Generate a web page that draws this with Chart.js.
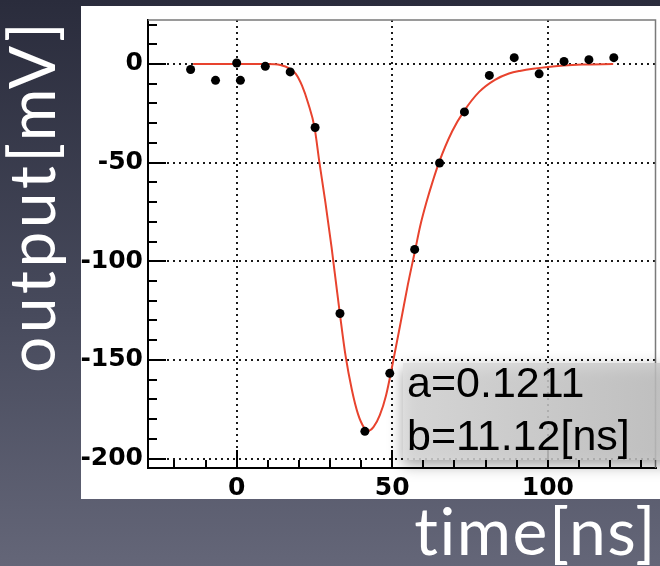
<!DOCTYPE html>
<html>
<head>
<meta charset="utf-8">
<script src="https://cdn.jsdelivr.net/npm/chart.js@4"></script>
<style>
  html, body { margin: 0; padding: 0; }
  body {
    width: 660px; height: 566px; overflow: hidden;
    background: linear-gradient(to bottom, #2a2c3c 0%, #474a5c 55%, #646678 100%);
  }
</style>
</head>
<body>
<canvas id="c" width="660" height="566"></canvas>
<script>
// measured points (time in ns, output in mV)
const timeData   = [-14.8, -6.8, 0, 1.2, 9.2, 17.2, 25.2, 33.2, 41.2, 49.2, 57.2, 65.2, 73.2, 81.2, 89.2, 97.2, 105.2, 113.2, 121.2];
const outputData = [-2.8, -8.3, 0.5, -8.3, -1.2, -4, -32.2, -126.5, -186.2, -156.8, -94, -50.2, -24.3, -5.8, 3.2, -5, 1.3, 2.2, 3.2];

// fit curve
const fitTime   = [-14, 0, 10, 14, 17, 19, 21, 23, 25, 26.6, 28.5, 30.5, 32, 33.2, 35, 37, 39, 41, 42.2, 44, 46, 48, 50, 53, 55, 57.4, 59, 61, 63, 65, 69.3, 73, 78, 83, 87.5, 91, 100, 111, 121];
const fitOutput = [0, 0, 0, -0.5, -2.3, -5, -11, -20, -32, -50, -70, -93, -112, -127, -148, -165, -177.5, -184.5, -186, -184, -178, -168, -153, -128.5, -112, -94, -82, -70, -59.5, -50, -34, -24, -14, -8, -4.8, -3.5, -1.5, -0.3, 0];

const fitParams = ["a=0.1211", "b=11.12[ns]"];
const xTitle = "time[ns]";
const yTitle = "output[mV]";

const xRange = [-28.5, 134.6];
const yRange = [-204.8, 22.3];

const tickFont = { family: "DejaVu Sans", weight: "bold", size: 25 };
const isMajor = v => v % 50 === 0;

const points = timeData.map((t, i) => ({ x: t, y: outputData[i] }));
const curve = fitTime.map((t, i) => ({ x: t, y: fitOutput[i] }));

const deco = {
  id: "deco",
  beforeDraw(chart) {
    const ctx = chart.ctx;
    ctx.save();
    ctx.fillStyle = "#ffffff";
    ctx.fillRect(81, 6, 579, 493);
    ctx.restore();
  },
  beforeDatasetsDraw(chart) {
    const ctx = chart.ctx;
    const a = chart.chartArea;
    const { x, y } = chart.scales;
    ctx.save();
    // top / right frame
    ctx.strokeStyle = "#7a7a7a";
    ctx.lineWidth = 1.5;
    ctx.beginPath();
    ctx.moveTo(a.left, a.top);
    ctx.lineTo(a.right, a.top);
    ctx.lineTo(a.right, a.bottom);
    ctx.stroke();
    // inward ticks
    ctx.strokeStyle = "#000";
    ctx.lineWidth = 2;
    ctx.beginPath();
    x.ticks.forEach(t => {
      const px = Math.round(x.getPixelForValue(t.value));
      const len = isMajor(t.value) ? 18 : 8;
      ctx.moveTo(px, a.bottom);
      ctx.lineTo(px, a.bottom - len);
    });
    y.ticks.forEach(t => {
      const py = Math.round(y.getPixelForValue(t.value));
      const len = isMajor(t.value) ? 18 : 9;
      ctx.moveTo(a.left, py);
      ctx.lineTo(a.left + len, py);
    });
    ctx.stroke();
    ctx.restore();
  },
  afterDatasetsDraw(chart) {
    const ctx = chart.ctx;
    ctx.save();
    // fit parameter box
    ctx.shadowColor = "rgba(0,0,0,0.45)";
    ctx.shadowBlur = 14;
    ctx.shadowOffsetY = 5;
    const g = ctx.createLinearGradient(403, 0, 660, 0);
    g.addColorStop(0, "rgba(224,224,224,0.82)");
    g.addColorStop(1, "rgba(198,198,198,0.82)");
    ctx.fillStyle = g;
    ctx.fillRect(403, 363, 270, 97);
    ctx.shadowColor = "transparent";
    ctx.fillStyle = "#000";
    ctx.font = "43px 'Liberation Sans', Arial, sans-serif";
    ctx.textAlign = "left";
    ctx.textBaseline = "alphabetic";
    ctx.fillText(fitParams[0], 407, 397);
    ctx.fillText(fitParams[1], 407, 450);
    ctx.restore();
  },
  afterDraw(chart) {
    const ctx = chart.ctx;
    ctx.save();
    ctx.fillStyle = "#ffffff";
    ctx.textBaseline = "alphabetic";
    ctx.textAlign = "right";
    ctx.font = "400 66px Lato, 'Open Sans', sans-serif";
    ctx.letterSpacing = "1.5px";
    ctx.fillText(xTitle, 657, 555);
    ctx.translate(55, 373);
    ctx.rotate(-Math.PI / 2);
    ctx.textAlign = "left";
    ctx.font = "400 64px Lato, 'Open Sans', sans-serif";
    ctx.letterSpacing = "3.5px";
    ctx.fillText(yTitle, 0, 0);
    ctx.restore();
  }
};

new Chart(document.getElementById("c"), {
  type: "scatter",
  data: {
    datasets: [
      {
        label: "data",
        data: points,
        pointRadius: 4.5,
        pointBackgroundColor: "#000",
        pointBorderWidth: 0
      },
      {
        label: "fit",
        data: curve,
        showLine: true,
        pointRadius: 0,
        borderColor: "#e8432e",
        borderWidth: 2,
        cubicInterpolationMode: "monotone"
      }
    ]
  },
  options: {
    responsive: false,
    animation: false,
    devicePixelRatio: 1,
    layout: { padding: { top: 14, right: 3, left: 0, bottom: 0 } },
    plugins: { legend: { display: false }, tooltip: { enabled: false } },
    scales: {
      x: {
        type: "linear",
        min: xRange[0],
        max: xRange[1],
        afterFit: s => { s.height = 98; },
        ticks: {
          stepSize: 10,
          includeBounds: false,
          autoSkip: false,
          maxRotation: 0,
          padding: 5,
          color: "#000",
          font: tickFont,
          callback: v => (isMajor(v) ? String(v) : "")
        },
        grid: {
          drawTicks: false,
          lineWidth: 2,
          color: c => (c.tick && isMajor(c.tick.value) ? "#1a1a1a" : "rgba(0,0,0,0)")
        },
        border: { display: true, color: "#000", width: 2, dash: [2, 4] }
      },
      y: {
        type: "linear",
        min: yRange[0],
        max: yRange[1],
        afterFit: s => { s.width = 148; },
        ticks: {
          stepSize: 10,
          includeBounds: false,
          autoSkip: false,
          padding: 5,
          color: "#000",
          font: tickFont,
          callback: v => (isMajor(v) ? String(v) : "")
        },
        grid: {
          drawTicks: false,
          lineWidth: 2,
          color: c => (c.tick && isMajor(c.tick.value) ? "#1a1a1a" : "rgba(0,0,0,0)")
        },
        border: { display: true, color: "#000", width: 2, dash: [2, 4] }
      }
    }
  },
  plugins: [deco]
});
</script>
</body>
</html>
